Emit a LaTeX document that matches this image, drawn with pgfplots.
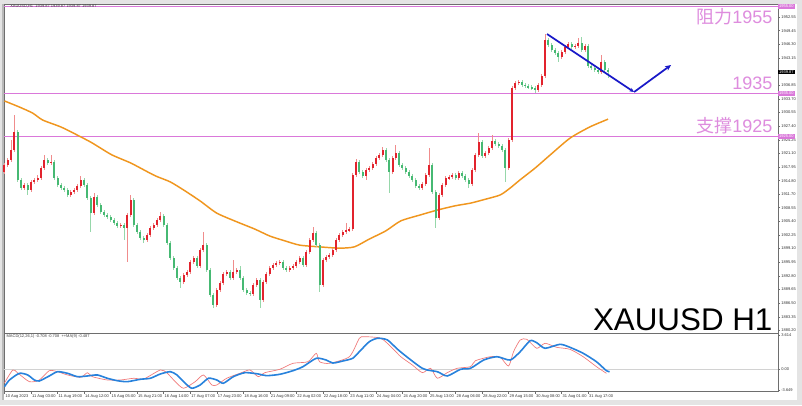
\documentclass[border=0pt]{standalone}
\usepackage{fontspec}
\setmainfont{Liberation Sans}
\newfontfamily\cjk{Noto Sans CJK SC}
\usepackage{pgfplots}
\pgfplotsset{compat=1.18}
\usepackage{pgfplotstable}
\usetikzlibrary{arrows.meta}

\definecolor{upc}{RGB}{226,35,45}
\definecolor{upw}{RGB}{240,140,140}
\definecolor{dnc}{RGB}{70,185,115}
\definecolor{dnw}{RGB}{150,215,170}
\definecolor{maorange}{RGB}{240,150,30}
\definecolor{lvl}{RGB}{218,120,218}
\definecolor{lvltxt}{RGB}{222,140,222}
\definecolor{arrowblue}{RGB}{25,25,200}
\definecolor{macdblue}{RGB}{40,130,220}
\definecolor{macdred}{RGB}{240,120,120}
\definecolor{framec}{RGB}{110,110,110}
\definecolor{bggray}{RGB}{228,228,228}

\newcommand\tinyfont{\fontsize{3}{3.6}\selectfont}

% H1 candles, one every 2 bars: bar, open, high, low, close
\pgfplotstableread{
x o h l c
0 1916.8 1918.9 1916.3 1918.4
2 1918.4 1920.1 1917.9 1919.6
4 1919.6 1924.2 1919.1 1921.9
6 1921.9 1930.0 1921.4 1926.0
8 1926.0 1926.5 1914.5 1915.0
10 1915.0 1915.5 1912.6 1913.1
12 1913.1 1914.3 1912.6 1913.8
14 1913.8 1914.3 1911.5 1912.6
16 1912.6 1915.0 1912.1 1914.5
18 1914.5 1915.5 1914.0 1915.0
20 1915.0 1916.0 1914.5 1915.4
22 1915.4 1918.2 1914.9 1917.7
24 1917.7 1920.7 1917.2 1919.6
26 1919.6 1920.1 1918.4 1918.9
28 1918.9 1920.7 1918.4 1919.1
30 1919.1 1919.6 1914.9 1915.4
32 1915.4 1915.9 1913.3 1913.8
34 1913.8 1914.3 1912.6 1913.1
36 1913.1 1913.6 1912.1 1912.6
38 1912.6 1913.1 1911.0 1911.5
40 1911.5 1912.7 1911.0 1912.2
42 1912.2 1913.1 1911.7 1912.6
44 1912.6 1914.1 1912.1 1913.6
46 1913.6 1915.9 1913.1 1915.0
48 1915.0 1915.5 1913.3 1913.8
50 1913.8 1914.3 1910.3 1910.8
52 1910.8 1911.3 1902.9 1907.3
54 1907.3 1912.0 1906.8 1911.0
56 1911.0 1911.5 1908.7 1909.2
58 1909.2 1909.7 1907.1 1907.6
60 1907.6 1908.1 1906.4 1906.9
62 1906.9 1907.4 1905.9 1906.4
64 1906.4 1906.9 1905.2 1905.7
66 1905.7 1906.2 1904.5 1905.0
68 1905.0 1905.5 1903.8 1904.3
70 1904.3 1905.1 1903.8 1904.6
72 1904.6 1905.1 1901.1 1903.9
74 1903.9 1907.4 1896.0 1906.9
76 1906.9 1911.5 1906.4 1910.3
78 1910.3 1910.8 1904.1 1904.6
80 1904.6 1905.1 1902.4 1902.9
82 1902.9 1903.4 1901.1 1901.6
84 1901.6 1902.1 1900.4 1901.1
86 1901.1 1902.8 1900.6 1902.3
88 1902.3 1904.4 1901.8 1903.9
90 1903.9 1905.1 1903.4 1904.6
92 1904.6 1906.2 1904.1 1905.7
94 1905.7 1907.6 1905.2 1906.6
96 1906.6 1907.1 1904.1 1904.6
98 1904.6 1905.1 1899.9 1900.4
100 1900.4 1900.9 1896.4 1896.9
102 1896.9 1897.4 1894.1 1894.6
104 1894.6 1895.1 1891.8 1892.3
106 1892.3 1892.8 1890.0 1891.4
108 1891.4 1893.5 1890.9 1893.0
110 1893.0 1894.2 1892.5 1893.7
112 1893.7 1896.5 1893.2 1896.0
114 1896.0 1897.4 1895.5 1896.9
116 1896.9 1897.4 1894.6 1895.1
118 1895.1 1899.3 1894.6 1898.8
120 1898.8 1902.9 1898.3 1899.9
122 1899.9 1900.4 1893.7 1894.2
124 1894.2 1894.7 1887.9 1888.4
126 1888.4 1888.9 1885.4 1886.1
128 1886.1 1890.0 1885.6 1889.5
130 1889.5 1891.7 1889.0 1891.2
132 1891.2 1893.7 1890.7 1893.2
134 1893.2 1894.2 1892.7 1893.7
136 1893.7 1894.2 1891.8 1892.3
138 1892.3 1896.5 1891.8 1893.7
140 1893.7 1894.7 1893.2 1894.2
142 1894.2 1895.0 1891.8 1892.3
144 1892.3 1892.8 1889.0 1889.5
146 1889.5 1890.0 1888.4 1888.9
148 1888.9 1889.4 1888.1 1888.6
150 1888.6 1891.2 1888.1 1890.7
152 1890.7 1892.4 1890.2 1891.9
154 1891.9 1892.4 1885.4 1887.2
156 1887.2 1891.9 1886.7 1891.4
158 1891.4 1893.7 1890.9 1893.2
160 1893.2 1895.1 1892.7 1894.6
162 1894.6 1895.8 1894.1 1895.3
164 1895.3 1896.3 1894.8 1895.8
166 1895.8 1896.5 1895.3 1896.0
168 1896.0 1896.5 1894.1 1894.6
170 1894.6 1895.1 1893.7 1894.2
172 1894.2 1895.1 1893.7 1894.6
174 1894.6 1895.6 1894.1 1895.1
176 1895.1 1896.5 1894.6 1896.0
178 1896.0 1897.4 1895.5 1896.9
180 1896.9 1897.4 1894.8 1895.3
182 1895.3 1898.8 1894.8 1898.3
184 1898.3 1901.6 1897.8 1901.1
186 1901.1 1904.1 1900.6 1902.7
188 1902.7 1903.2 1899.4 1899.9
190 1899.9 1900.4 1889.1 1890.7
192 1890.7 1897.0 1890.2 1896.5
194 1896.5 1897.7 1896.0 1897.2
196 1897.2 1898.1 1896.7 1897.6
198 1897.6 1899.3 1897.1 1898.8
200 1898.8 1901.6 1898.3 1901.1
202 1901.1 1902.8 1900.6 1902.3
204 1902.3 1903.4 1901.8 1902.9
206 1902.9 1905.0 1902.4 1903.4
208 1903.4 1904.1 1902.9 1903.6
210 1903.6 1916.6 1903.1 1916.1
212 1916.1 1919.8 1915.6 1919.1
214 1919.1 1919.6 1916.3 1916.8
216 1916.8 1917.3 1915.4 1915.9
218 1915.9 1917.8 1915.0 1917.3
220 1917.3 1918.2 1916.8 1917.7
222 1917.7 1919.1 1917.2 1918.6
224 1918.6 1920.5 1918.1 1920.0
226 1920.0 1921.2 1919.5 1920.7
228 1920.7 1922.6 1920.2 1921.9
230 1921.9 1922.4 1919.1 1919.6
232 1919.6 1920.1 1912.0 1916.8
234 1916.8 1920.5 1916.3 1920.0
236 1920.0 1923.0 1919.5 1921.2
238 1921.2 1921.7 1917.9 1918.4
240 1918.4 1918.9 1917.2 1917.7
242 1917.7 1918.2 1916.3 1916.8
244 1916.8 1917.3 1915.4 1915.9
246 1915.9 1916.4 1914.5 1915.0
248 1915.0 1915.5 1913.1 1913.6
250 1913.6 1914.1 1912.6 1913.1
252 1913.1 1914.5 1912.6 1914.0
254 1914.0 1916.6 1913.5 1916.1
256 1916.1 1922.3 1915.6 1918.4
258 1918.4 1918.9 1911.7 1912.2
260 1912.2 1912.7 1903.9 1906.2
262 1906.2 1912.0 1905.7 1911.5
264 1911.5 1914.3 1911.0 1913.8
266 1913.8 1915.9 1913.3 1915.4
268 1915.4 1916.1 1914.9 1915.6
270 1915.6 1916.6 1915.1 1916.1
272 1916.1 1916.6 1914.9 1915.4
274 1915.4 1917.1 1914.9 1916.6
276 1916.6 1917.1 1915.4 1915.9
278 1915.9 1916.4 1914.5 1915.0
280 1915.0 1915.5 1913.1 1914.0
282 1914.0 1917.8 1913.5 1917.3
284 1917.3 1921.2 1916.8 1920.7
286 1920.7 1925.8 1920.2 1923.7
288 1923.7 1924.2 1920.0 1920.5
290 1920.5 1921.7 1920.0 1921.2
292 1921.2 1922.8 1920.7 1922.3
294 1922.3 1925.3 1921.8 1924.0
296 1924.0 1924.5 1922.8 1923.3
298 1923.3 1923.8 1922.3 1922.8
300 1922.8 1923.3 1921.4 1921.9
302 1921.9 1922.4 1914.5 1917.7
304 1917.7 1924.7 1917.2 1924.2
306 1924.2 1936.7 1923.7 1936.2
308 1936.2 1937.9 1935.7 1937.4
310 1937.4 1938.1 1936.9 1937.6
312 1937.6 1938.1 1936.4 1936.9
314 1936.9 1937.4 1936.2 1936.7
316 1936.7 1937.2 1935.9 1936.4
318 1936.4 1936.9 1935.7 1936.2
320 1936.2 1936.7 1935.0 1935.7
322 1935.7 1937.4 1935.2 1936.9
324 1936.9 1939.5 1936.4 1939.0
326 1939.0 1948.7 1938.5 1947.3
328 1947.3 1947.8 1945.6 1946.1
330 1946.1 1946.6 1944.5 1945.0
332 1945.0 1945.5 1943.8 1944.3
334 1944.3 1944.8 1942.2 1943.4
336 1943.4 1945.0 1942.9 1944.5
338 1944.5 1946.2 1944.0 1945.7
340 1945.7 1946.9 1945.2 1946.4
342 1946.4 1946.9 1945.2 1945.7
344 1945.7 1946.4 1945.2 1945.9
346 1945.9 1947.7 1945.4 1946.6
348 1946.6 1948.0 1944.5 1945.0
350 1945.0 1946.4 1944.5 1945.9
352 1945.9 1946.4 1940.8 1941.3
354 1941.3 1941.8 1940.3 1940.8
356 1940.8 1941.3 1939.9 1940.4
358 1940.4 1940.9 1939.4 1939.9
360 1939.9 1943.8 1939.4 1942.2
362 1942.2 1942.7 1939.9 1940.4
364 1940.4 1940.9 1938.5 1939.87
}\candles

% moving average (orange)
\pgfplotstableread{
x y
0 1933.2
9 1931.8
17 1930.4
23 1928.8
34 1927.2
44 1925.3
52 1923.7
58 1922.3
65 1920.7
76 1918.9
82 1917.7
91 1915.9
100 1914.5
109 1912.4
118 1910.1
128 1907.3
140 1905.3
151 1903.6
160 1902.0
169 1900.9
178 1899.9
190 1899.5
202 1899.2
211 1899.5
220 1901.3
230 1903.2
239 1905.5
251 1906.9
261 1908.0
272 1909.0
281 1909.6
290 1910.5
299 1911.5
305 1913.1
311 1915.0
320 1917.7
329 1920.7
341 1924.6
353 1927.2
364 1929.0
}\mavg

% MACD main line (blue)
\pgfplotstableread{
x v
0 -2.92
3 -1.78
9 -0.65
14 -0.93
18 -1.78
21 -1.95
27 -1.10
32 -0.37
38 -0.65
44 -1.22
50 -1.10
56 -0.93
62 -1.49
68 -1.90
74 -2.07
82 -1.66
88 -1.49
94 -0.76
100 -0.37
104 -0.93
109 -2.34
113 -3.19
118 -2.63
123 -1.49
128 -1.78
132 -2.34
138 -1.22
145 -0.54
153 -0.76
158 -1.05
166 -0.82
174 -0.20
180 0.48
188 1.90
194 1.61
198 1.10
204 1.44
210 1.90
214 3.02
220 4.72
225 5.30
231 5.01
238 3.20
252 0.20
261 -0.37
267 -1.10
275 0.03
281 0.20
289 1.61
297 2.17
305 1.61
311 3.02
317 4.89
321 4.55
326 3.60
335 4.28
341 3.77
349 2.75
357 1.32
363 -0.20
365 -0.37
}\macdline

% MACD second line (red)
\pgfplotstableread{
x v
0 -2.29
5 -0.08
8 -0.59
15 -2.07
21 -1.78
27 -0.20
32 -0.37
38 -0.93
46 -1.32
50 -0.54
53 -1.22
62 -1.78
70 -1.78
78 -1.49
84 -1.61
94 -0.08
98 -0.59
103 -2.07
108 -3.19
115 -2.07
120 -0.93
125 -2.63
128 -2.63
134 -1.49
142 -0.65
148 -0.08
153 -1.22
157 -0.54
166 0.03
174 1.05
183 1.32
188 2.75
190 1.32
196 1.05
208 2.17
214 5.30
217 5.57
227 5.30
234 3.60
239 2.17
246 0.76
252 -0.54
257 0.20
261 -1.49
267 -0.54
273 0.20
281 0.48
284 1.49
293 2.17
299 2.07
304 0.59
307 3.02
311 5.01
315 5.13
321 3.60
326 4.45
333 3.77
341 3.43
349 2.17
357 0.48
363 -0.65
}\macdsig

\begin{document}
\begin{tikzpicture}
\fill[bggray] (0pt,0pt) rectangle (601.5pt,303.75pt);
\fill[white] (3pt,3.75pt) rectangle (597.75pt,300.75pt);
\fill[gray!55] (1.2pt,3.75pt) rectangle (3pt,300.75pt);

% ---- price panel ----
\begin{axis}[
  at={(3pt,54pt)}, anchor=south west,
  scale only axis, width=580.5pt, height=246.75pt,
  xmin=-0.3, xmax=466.5, ymin=1879.6, ymax=1955.6,
  clip=false,
  axis line style={framec, line width=0.4pt},
  xtick=\empty,
  ytick={1880.20,1883.35,1886.50,1889.65,1892.80,1895.95,1899.10,1902.25,1905.40,1908.55,1911.70,1914.80,1917.95,1921.10,1924.25,1927.40,1930.55,1933.70,1936.85,1943.15,1946.30,1949.45,1952.55},
  ytick pos=right, yticklabel pos=right,
  tick align=outside, major tick length=1.5pt,
  tick style={framec, line width=0.3pt},
  yticklabel style={font=\tinyfont, text=black!80, inner sep=0.8pt,
    /pgf/number format/.cd, fixed, fixed zerofill, precision=2, 1000 sep={}, assume math mode=true},
]
% support / resistance levels
\addplot[lvl, line width=1pt] coordinates {(-0.3,1955) (466.5,1955)};
\addplot[lvl, line width=1pt] coordinates {(-0.3,1935) (466.5,1935)};
\addplot[lvl, line width=1pt] coordinates {(-0.3,1925) (466.5,1925)};

% moving average
\addplot[maorange, line width=1.1pt, smooth, tension=0.4] table[x=x, y=y] {\mavg};

% wicks
\addplot[draw=none, mark=none,
  restrict expr to domain={\thisrow{c}-\thisrow{o}}{0:1000},
  error bars/.cd, y dir=both, y explicit, error mark=none,
  error bar style={draw=upw, line width=0.5pt}]
  table[x=x, y expr=(\thisrow{h}+\thisrow{l})/2, y error expr=(\thisrow{h}-\thisrow{l})/2] {\candles};
\addplot[draw=none, mark=none,
  restrict expr to domain={\thisrow{c}-\thisrow{o}}{-1000:-0.001},
  error bars/.cd, y dir=both, y explicit, error mark=none,
  error bar style={draw=dnw, line width=0.5pt}]
  table[x=x, y expr=(\thisrow{h}+\thisrow{l})/2, y error expr=(\thisrow{h}-\thisrow{l})/2] {\candles};
% bodies
\addplot[draw=none, mark=none,
  restrict expr to domain={\thisrow{c}-\thisrow{o}}{0:1000},
  error bars/.cd, y dir=both, y explicit, error mark=none,
  error bar style={draw=upc, line width=1.5pt}]
  table[x=x, y expr=(\thisrow{o}+\thisrow{c})/2, y error expr=abs(\thisrow{c}-\thisrow{o})/2] {\candles};
\addplot[draw=none, mark=none,
  restrict expr to domain={\thisrow{c}-\thisrow{o}}{-1000:-0.001},
  error bars/.cd, y dir=both, y explicit, error mark=none,
  error bar style={draw=dnc, line width=1.5pt}]
  table[x=x, y expr=(\thisrow{o}+\thisrow{c})/2, y error expr=abs(\thisrow{c}-\thisrow{o})/2] {\candles};

% forecast arrow
\addplot[arrowblue, line width=1.3pt, -{Stealth[length=3.5pt,width=3pt]}] coordinates {(327.2,1948.67) (379.7,1935.27)};
\addplot[arrowblue, line width=1.3pt, -{Stealth[length=4.5pt,width=4pt]}] coordinates {(379.7,1935.27) (402.0,1941.51)};

% highlighted price labels
\node[fill=lvl, text=white, font=\tinyfont, inner sep=0.7pt, anchor=west] at (axis cs:466.5,1955) {1955.00};
\node[fill=lvl, text=white, font=\tinyfont, inner sep=0.7pt, anchor=west] at (axis cs:466.5,1935) {1935.00};
\node[fill=lvl, text=white, font=\tinyfont, inner sep=0.7pt, anchor=west] at (axis cs:466.5,1925) {1925.00};
\node[fill=black, text=white, font=\tinyfont, inner sep=0.7pt, anchor=west] at (axis cs:466.5,1939.87) {1939.87};
\end{axis}

% ---- MACD panel ----
\begin{axis}[
  at={(3pt,10.125pt)}, anchor=south west,
  scale only axis, width=580.5pt, height=43.875pt,
  xmin=-0.3, xmax=466.5, ymin=-3.74, ymax=6.20,
  axis line style={framec, line width=0.4pt},
  xtick={0,16,...,352},
  xticklabels={10 Aug 2023,11 Aug 03:00,11 Aug 19:00,14 Aug 12:00,15 Aug 05:00,15 Aug 21:00,16 Aug 14:00,17 Aug 07:00,17 Aug 23:00,18 Aug 16:00,21 Aug 09:00,22 Aug 02:00,22 Aug 18:00,23 Aug 11:00,24 Aug 04:00,24 Aug 20:00,25 Aug 13:00,28 Aug 06:00,28 Aug 22:00,29 Aug 15:00,30 Aug 08:00,31 Aug 01:00,31 Aug 17:00},
  xtick pos=bottom,
  ytick={-3.48,0,5.86}, yticklabels={-3.649,0.00,3.614},
  ytick pos=right, yticklabel pos=right,
  tick align=outside, major tick length=1.5pt,
  tick style={framec, line width=0.3pt},
  xticklabel style={font=\tinyfont, text=black!80, anchor=north west, inner sep=0.6pt},
  yticklabel style={font=\tinyfont, text=black!80, inner sep=0.8pt},
]
\addplot[gray!35, line width=0.4pt] coordinates {(-0.3,0) (466.5,0)};
\addplot[macdred, line width=0.5pt, smooth, tension=0.4] table[x=x, y=v] {\macdsig};
\addplot[macdblue, line width=1.2pt, smooth, tension=0.4] table[x=x, y=v] {\macdline};
\end{axis}

% ---- annotations ----
\node[anchor=west, font=\tinyfont, text=black!75, inner sep=0] at (7.5pt,298.7pt) {XAUUSD,H1\ \ 1939.87 1939.87 1939.87 1939.87};
\node[anchor=west, font=\tinyfont, text=black!75, inner sep=0] at (4.8pt,51.2pt) {MACD(12,26,1) -0.708 -0.708\ \ ++MA(9) -0.487};

\node[anchor=base east, text=lvltxt, font=\fontsize{13.5}{15}\selectfont, inner sep=0] at (579.5pt,286.1pt) {{\cjk 阻力}1955};
\node[anchor=base east, text=lvltxt, font=\fontsize{13.5}{15}\selectfont, inner sep=0] at (579.5pt,237.0pt) {1935};
\node[anchor=base east, text=lvltxt, font=\fontsize{13.5}{15}\selectfont, inner sep=0] at (579.5pt,204.2pt) {{\cjk 支撑}1925};
\node[anchor=base east, font=\fontsize{23.5}{25}\selectfont, inner sep=0] at (579.5pt,56.2pt) {XAUUSD H1};

\pgfresetboundingbox
\useasboundingbox (0pt,0pt) rectangle (601.5pt,303.75pt);
\end{tikzpicture}
\end{document}
